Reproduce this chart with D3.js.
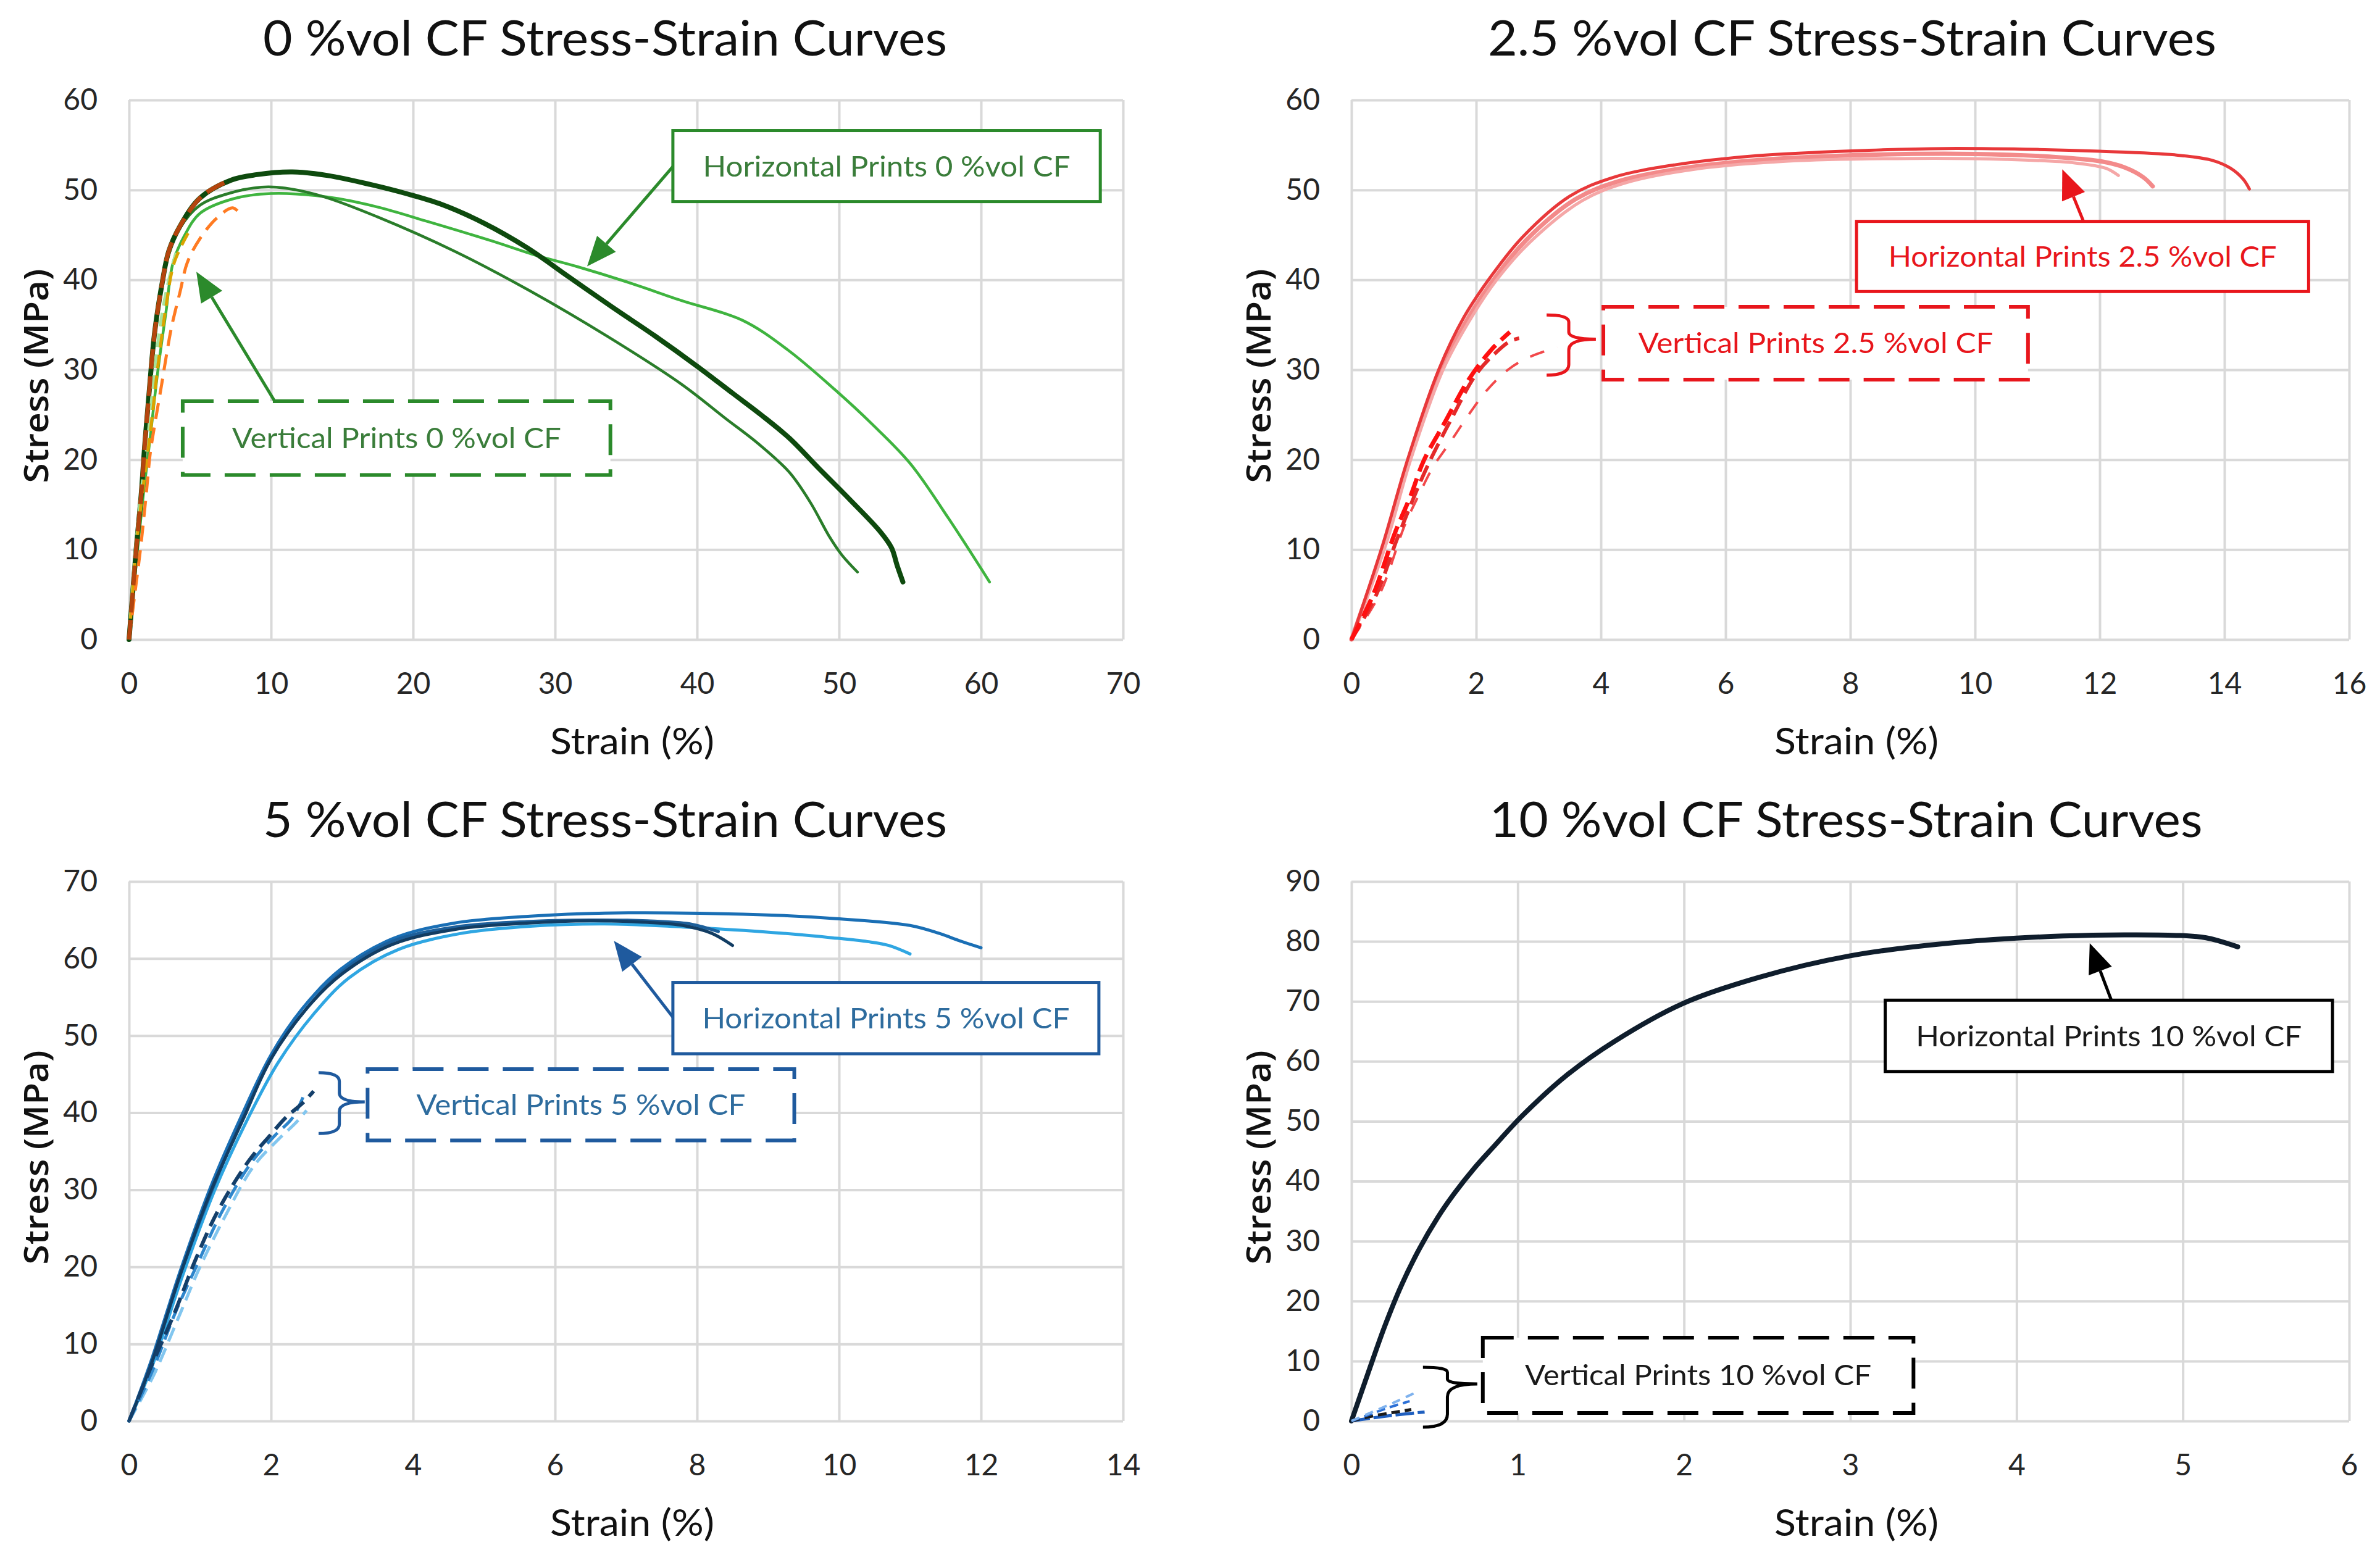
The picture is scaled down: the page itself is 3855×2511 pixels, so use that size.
<!DOCTYPE html>
<html>
<head>
<meta charset="utf-8">
<script src="https://d3js.org/d3.v7.min.js"></script>
<style>
  body { margin: 0; background: #fff; }
</style>
</head>
<body>
<svg id="fig" width="3855" height="2511"></svg>
<script>
// values: [strain %, stress MPa]

const titles = ["0 %vol CF Stress-Strain Curves", "2.5 %vol CF Stress-Strain Curves",
                "5 %vol CF Stress-Strain Curves", "10 %vol CF Stress-Strain Curves"];
const xLabel = "Strain (%)";
const yLabel = "Stress (MPa)";

const xTicks0 = [0, 10, 20, 30, 40, 50, 60, 70];
const yTicks0 = [0, 10, 20, 30, 40, 50, 60];
const xTicks25 = [0, 2, 4, 6, 8, 10, 12, 14, 16];
const yTicks25 = [0, 10, 20, 30, 40, 50, 60];
const xTicks5 = [0, 2, 4, 6, 8, 10, 12, 14];
const yTicks5 = [0, 10, 20, 30, 40, 50, 60, 70];
const xTicks10 = [0, 1, 2, 3, 4, 5, 6];
const yTicks10 = [0, 10, 20, 30, 40, 50, 60, 70, 80, 90];

// 0 %vol CF, horizontal prints
const h0Light = [[0,0],[0.3,5],[0.6,10],[1.0,16],[1.5,22.6],[2.0,29.5],[2.6,36.4],[3.1,41.9],[3.9,44.9],[5,47.4],[7.3,49],[10,49.6],[14,49.2],[17.5,48.1],[21,46.5],[25.6,44.3],[28.5,42.8],[31.5,41.5],[35,39.8],[38.9,37.7],[43.2,35.5],[46.4,32.2],[49.7,27.8],[52.3,24],[55,19.6],[57.7,13.5],[60.6,6.4]];
const h0Mid = [[0,0],[0.25,5],[0.5,10],[0.85,16],[1.1,21.5],[1.4,27],[1.8,33.8],[2.35,39.5],[2.8,42.8],[3.6,45.8],[5,48.3],[7,49.6],[9.3,50.3],[11,50.2],[13.8,49.2],[17.5,47],[22.9,43.2],[28.2,38.8],[33.6,33.8],[38.9,28.4],[42,24.6],[44.3,21.8],[46.5,18.6],[48,15.2],[49.3,11.5],[50.2,9.4],[51.3,7.5]];
const h0Dark = [[0,0],[0.25,5],[0.5,10],[0.85,16],[1.1,21.5],[1.4,27.2],[1.8,34.1],[2.35,39.8],[2.8,43.2],[3.6,46],[5,49.1],[7.2,51.1],[9,51.7],[11.5,52],[14,51.6],[17,50.6],[19.5,49.6],[22,48.4],[25,46.3],[28,43.6],[31,40.3],[34,37],[37,33.8],[40,30.4],[42.5,27.4],[44.5,25],[46.5,22.4],[48.6,19],[50.8,15.5],[52.9,12],[53.7,10.2],[54.1,8.2],[54.5,6.4]];
// 0 %vol CF, vertical prints
const v0Pale = [[0,0],[0.4,9],[0.9,17],[1.3,22],[1.8,30],[2.3,36],[2.8,40],[3.3,43]];
const v0Gold = [[0,0],[0.5,10],[1.0,17],[1.5,23],[2.0,30],[2.6,37],[3.2,42],[4.3,45.6]];
const v0Orange = [[0,0],[0.4,5],[0.8,10],[1.2,16],[1.5,20.8],[1.8,23.8],[2.3,28.4],[2.6,31.3],[3.0,34.8],[3.6,38.7],[4.1,41.9],[5,44.6],[6.2,46.9],[7.3,48],[7.9,47.2]];
const v0Brown = [[0,0],[0.25,5],[0.5,10],[0.85,16],[1.1,21.5],[1.4,27.2],[1.8,34.1],[2.35,39.8],[2.8,43.2],[3.6,46],[5,49.1],[6.2,50.4],[7.2,51.1]];

// 2.5 %vol CF, horizontal prints
const h25A = [[0,0],[0.5,10.5],[0.9,20],[1.4,30],[1.8,35.8],[2.25,40.5],[2.75,44.8],[3.5,49.3],[4.2,51.4],[5.2,52.8],[6.5,53.8],[8.3,54.4],[9.5,54.6],[11,54.5],[12,54.3],[13.2,53.9],[13.8,53.3],[14.1,52.4],[14.3,51.2],[14.4,50.1]];
const h25B = [[0,0],[0.52,10.5],[0.93,20],[1.45,30],[1.85,35.5],[2.3,40.2],[2.8,44.4],[3.6,49],[4.3,51],[5.3,52.4],[6.5,53.3],[8.3,53.9],[10,54],[11.2,53.7],[12,53.2],[12.4,52.5],[12.7,51.4],[12.85,50.4]];
const h25C = [[0,0],[0.55,10.5],[0.95,20],[1.47,30],[1.88,35.3],[2.33,40],[2.85,44.1],[3.7,48.8],[4.4,50.8],[5.5,52.3],[7,53.2],[9,53.5],[10.5,53.4],[11.6,53],[12.1,52.4],[12.3,51.6]];
// 2.5 %vol CF, vertical prints
const v25A = [[0,0],[0.35,5],[0.7,11.9],[0.95,16],[1.16,19.9],[1.51,24.3],[1.87,28.8],[2.24,32.2],[2.54,34.2]];
const v25B = [[0,0],[0.4,5],[0.75,11.5],[1.2,19],[1.6,24.5],[2.0,29.5],[2.3,31.8],[2.55,33.2],[2.69,33.5]];
const v25C = [[0,0],[0.45,5],[0.86,12.8],[1.09,16.2],[1.31,19.2],[1.58,21.9],[1.87,24.9],[2.17,27.7],[2.51,30],[2.85,31.4],[3.3,32.5]];

// 5 %vol CF, horizontal prints
const h5Top = [[0,0],[0.3,7.5],[0.73,19.7],[1.16,30.6],[1.58,39.5],[2.0,47.5],[2.44,53.5],[2.98,58.6],[3.72,62.6],[4.58,64.6],[5.65,65.5],[6.7,65.9],[8.86,65.7],[9.93,65.2],[11,64.3],[11.4,63.3],[11.7,62.3],[12,61.4]];
const h5Light = [[0,0],[0.32,7],[0.76,19],[1.2,29.8],[1.65,38.8],[2.1,46.5],[2.6,52.8],[3.1,57.5],[3.8,61.2],[4.7,63.3],[5.65,64.2],[6.7,64.5],[7.8,64.1],[8.9,63.5],[9.9,62.7],[10.4,62.2],[10.7,61.7],[11,60.6]];
const h5Mid = [[0,0],[0.3,7.2],[0.74,19.5],[1.18,30.2],[1.6,39.3],[2.02,47.3],[2.48,53.3],[3.0,58.3],[3.7,62.2],[4.6,64.1],[5.6,64.8],[6.5,65],[7.3,64.9],[7.9,64.5],[8.3,63.5]];
const h5Dark = [[0,0],[0.3,7],[0.73,19.2],[1.16,30],[1.6,39],[2.0,47],[2.5,53.5],[3.0,58],[3.7,61.8],[4.6,63.8],[5.6,64.6],[6.5,64.9],[7.3,64.7],[7.8,64.3],[8.2,63.3],[8.5,61.7]];
// 5 %vol CF, vertical prints
const v5Dark = [[0,0],[0.3,6.8],[0.64,14],[0.94,21],[1.26,27.4],[1.69,33.8],[2.0,37.2],[2.2,39.3],[2.45,41.3],[2.6,42.8]];
const v5Mid = [[0,0],[0.33,6.5],[0.65,14],[0.97,20.5],[1.3,27],[1.72,33.5],[2.05,37],[2.3,39.3],[2.45,42]];
const v5Light = [[0,0],[0.35,6],[0.7,13.5],[1.0,20],[1.35,26.5],[1.75,33],[2.1,36.5],[2.35,38.7],[2.5,40.3]];

// 10 %vol CF, horizontal prints
const h10 = [[0,0],[0.1,8],[0.2,15.8],[0.3,22.6],[0.41,28.8],[0.52,34],[0.62,38],[0.74,42.2],[0.85,45.6],[1.03,51],[1.3,57.8],[1.58,63.3],[1.99,69.6],[2.45,74],[3.0,77.6],[3.59,79.7],[4.28,80.9],[4.96,81],[5.14,80.6],[5.33,79.1]];
// 10 %vol CF, vertical prints
const v10A = [[0,0],[0.15,0.6],[0.3,1.1],[0.44,1.5]];
const v10B = [[0,0],[0.12,0.8],[0.25,1.4],[0.36,1.9]];
const v10C = [[0,0],[0.1,1],[0.22,2.2],[0.35,3.3]];
const v10D = [[0,0],[0.1,1.2],[0.25,3],[0.39,4.8]];

// ---- layout ----
const FONT = "Lato, 'Open Sans', sans-serif";
const svg = d3.select("#fig");

const panels = [
  { title: titles[0], titleX: 980, titleY: 90, titleLen: 1108,
    x0: 209, x1: 1819, y0: 162, y1: 1036, xDomain: [0, 70], yDomain: [0, 60], xTicks: xTicks0, yTicks: yTicks0,
    series: [
      { d: h0Light, color: "#3fb43f", w: 4.5 },
      { d: h0Mid, color: "#2a7d2a", w: 4.5 },
      { d: h0Dark, color: "#0e4a0e", w: 8 },
      { d: v0Pale, color: "#a6e39a", w: 5, dash: "22 12" },
      { d: v0Gold, color: "#d9a400", w: 5, dash: "22 12" },
      { d: v0Orange, color: "#ff7b22", w: 5, dash: "26 14" },
      { d: v0Brown, color: "#b4450e", w: 7, dash: "32 12" }
    ],
    textColor: "#3a7d3a", lineColor: "#2b8a2b",
    notes: [
      { text: "Horizontal Prints 0 %vol CF", len: 595, x: [38.3, 68.4], y: [56.6, 48.7], arrow: [[38.3, 52.6], [32.26, 41.5]] },
      { text: "Vertical Prints 0 %vol CF", len: 533, x: [3.78, 33.9], y: [26.5, 18.3], dashed: true, arrow: [[10.26, 26.5], [4.74, 40.9]] }
    ] },
  { title: titles[1], titleX: 3000, titleY: 90, titleLen: 1180,
    x0: 2189, x1: 3805, y0: 162, y1: 1036, xDomain: [0, 16], yDomain: [0, 60], xTicks: xTicks25, yTicks: yTicks25,
    series: [
      { d: h25B, color: "#f38a8a", w: 7 },
      { d: h25C, color: "#f5a7a7", w: 5 },
      { d: h25A, color: "#e8383a", w: 5 },
      { d: v25C, color: "#f2494b", w: 4, dash: "24 22" },
      { d: v25B, color: "#e42a2a", w: 6, dash: "28 12" },
      { d: v25A, color: "#ff1010", w: 7, dash: "30 12" }
    ],
    textColor: "#e8161c", lineColor: "#e8161c",
    notes: [
      { text: "Horizontal Prints 2.5 %vol CF", len: 629, x: [8.1, 15.35], y: [46.5, 38.7], arrow: [[11.74, 46.5], [11.4, 52.3]] },
      { text: "Vertical Prints 2.5 %vol CF", len: 575, x: [4.04, 10.85], y: [37.0, 28.9], dashed: true, brace: { x: [3.13, 3.92], y: [36.1, 29.4], tip: 33.4 } }
    ] },
  { title: titles[2], titleX: 980, titleY: 1356, titleLen: 1108,
    x0: 209, x1: 1819, y0: 1428, y1: 2302, xDomain: [0, 14], yDomain: [0, 70], xTicks: xTicks5, yTicks: yTicks5,
    series: [
      { d: h5Light, color: "#2fa6e2", w: 5 },
      { d: h5Top, color: "#1a6fb5", w: 5 },
      { d: h5Mid, color: "#1d5f9a", w: 5 },
      { d: h5Dark, color: "#123d63", w: 5 },
      { d: v5Light, color: "#82c6ef", w: 5, dash: "24 12" },
      { d: v5Mid, color: "#2e86cc", w: 5, dash: "24 12" },
      { d: v5Dark, color: "#143f6a", w: 6, dash: "26 12" }
    ],
    textColor: "#2e6c9e", lineColor: "#1f5a9e",
    notes: [
      { text: "Horizontal Prints 5 %vol CF", len: 595, x: [7.66, 13.66], y: [56.9, 47.65], arrow: [[7.66, 52.4], [6.83, 62.3]] },
      { text: "Vertical Prints 5 %vol CF", len: 533, x: [3.36, 9.37], y: [45.65, 36.4], dashed: true, brace: { x: [2.67, 3.32], y: [45.2, 37.3], tip: 41.4 } }
    ] },
  { title: titles[3], titleX: 2990, titleY: 1356, titleLen: 1155,
    x0: 2189, x1: 3805, y0: 1428, y1: 2302, xDomain: [0, 6], yDomain: [0, 90], xTicks: xTicks10, yTicks: yTicks10,
    series: [
      { d: h10, color: "#0f1d2c", w: 8 },
      { d: v10A, color: "#1f5fbf", w: 5, dash: "30 6" },
      { d: v10B, color: "#1a1a1a", w: 5, dash: "14 8" },
      { d: v10C, color: "#2a6fd6", w: 4, dash: "14 8" },
      { d: v10D, color: "#7fb2ee", w: 4, dash: "14 10" }
    ],
    textColor: "#1a1a1a", lineColor: "#000",
    notes: [
      { text: "Horizontal Prints 10 %vol CF", len: 625, x: [3.21, 5.9], y: [70.2, 58.3], arrow: [[4.57, 70.2], [4.44, 79.7]] },
      { text: "Vertical Prints 10 %vol CF", len: 561, x: [0.79, 3.38], y: [13.9, 1.34], dashed: true, brace: { x: [0.43, 0.757], y: [8.96, -1.03], tip: 6.18 } }
    ] }
];

function drawPanel(p) {
  const x = d3.scaleLinear().domain(p.xDomain).range([p.x0, p.x1]);
  const y = d3.scaleLinear().domain(p.yDomain).range([p.y1, p.y0]);
  const fmt = d3.format("~g");
  const g = svg.append("g");

  // grid + tick labels
  const gy = g.append("g").attr("transform", `translate(${p.x0},0)`)
    .call(d3.axisLeft(y).tickValues(p.yTicks).tickFormat(fmt).tickSize(-(p.x1 - p.x0)).tickPadding(51));
  const gx = g.append("g").attr("transform", `translate(0,${p.y1})`)
    .call(d3.axisBottom(x).tickValues(p.xTicks).tickFormat(fmt).tickSize(-(p.y1 - p.y0)).tickPadding(54));
  [gy, gx].forEach(a => {
    a.select(".domain").remove();
    a.selectAll(".tick line").attr("stroke", "#d9d9d9").attr("stroke-width", 4);
    a.selectAll(".tick text").attr("fill", "#262626").attr("font-family", FONT).attr("font-size", 48);
  });

  // title and axis labels
  g.append("text").attr("x", p.titleX).attr("y", p.titleY).attr("text-anchor", "middle")
    .attr("font-family", FONT).attr("font-size", 80).attr("fill", "#111")
    .attr("textLength", p.titleLen).attr("lengthAdjust", "spacingAndGlyphs").text(p.title);
  g.append("text").attr("x", (p.x0 + p.x1) / 2 + 10).attr("y", p.y1 + 186).attr("text-anchor", "middle")
    .attr("font-family", FONT).attr("font-size", 60).attr("fill", "#111")
    .attr("textLength", 266).attr("lengthAdjust", "spacingAndGlyphs").text(xLabel);
  g.append("text").attr("transform", `translate(${p.x0 - 150},${(p.y0 + p.y1) / 2 + 10}) rotate(-90)`)
    .attr("text-anchor", "middle").attr("dy", "0.35em")
    .attr("font-family", "'Open Sans', sans-serif").attr("font-weight", 600).attr("font-size", 54).attr("fill", "#111")
    .attr("textLength", 347).attr("lengthAdjust", "spacingAndGlyphs").text(yLabel);

  // curves
  const line = d3.line().x(d => x(d[0])).y(d => y(d[1])).curve(d3.curveCatmullRom.alpha(0.5));
  p.series.forEach(s => {
    g.append("path").datum(s.d).attr("d", line).attr("fill", "none")
      .attr("stroke", s.color).attr("stroke-width", s.w)
      .attr("stroke-dasharray", s.dash || null)
      .attr("stroke-linecap", s.dash ? "butt" : "round").attr("stroke-linejoin", "round");
  });

  // annotations
  p.notes.forEach(n => {
    const bx0 = x(n.x[0]), bx1 = x(n.x[1]), by0 = y(n.y[0]), by1 = y(n.y[1]);
    if (n.arrow) {
      const [a, b] = n.arrow.map(q => [x(q[0]), y(q[1])]);
      const ang = Math.atan2(b[1] - a[1], b[0] - a[0]);
      const L = 48, H = 20;
      const bx = b[0] - L * Math.cos(ang), byy = b[1] - L * Math.sin(ang);
      g.append("line").attr("x1", a[0]).attr("y1", a[1]).attr("x2", bx).attr("y2", byy)
        .attr("stroke", p.lineColor).attr("stroke-width", 5);
      g.append("path").attr("fill", p.lineColor)
        .attr("d", `M${b[0]},${b[1]}L${bx + H * Math.sin(ang)},${byy - H * Math.cos(ang)}L${bx - H * Math.sin(ang)},${byy + H * Math.cos(ang)}Z`);
    }
    if (n.brace) {
      const l = x(n.brace.x[0]), r = x(n.brace.x[1]);
      const t = y(n.brace.y[0]), b = y(n.brace.y[1]), m = y(n.brace.tip);
      const xs = l + (r - l) * 0.45;
      g.append("path").attr("fill", "none").attr("stroke", p.lineColor).attr("stroke-width", 5)
        .attr("d", `M${l},${t} Q${xs},${t} ${xs},${t + 0.3 * (m - t)} L${xs},${m - 0.3 * (m - t)} Q${xs},${m} ${r},${m} ` +
                   `Q${xs},${m} ${xs},${m + 0.3 * (b - m)} L${xs},${b - 0.3 * (b - m)} Q${xs},${b} ${l},${b}`);
    }
    g.append("rect").attr("x", bx0).attr("y", by0).attr("width", bx1 - bx0).attr("height", by1 - by0)
      .attr("fill", "#fff").attr("stroke", p.lineColor).attr("stroke-width", n.dashed ? 6 : 5)
      .attr("stroke-dasharray", n.dashed ? "50 23" : null);
    g.append("text").attr("x", (bx0 + bx1) / 2).attr("y", (by0 + by1) / 2).attr("dy", "0.35em")
      .attr("text-anchor", "middle").attr("font-family", FONT).attr("font-size", 47).attr("fill", p.textColor)
      .attr("textLength", n.len).attr("lengthAdjust", "spacingAndGlyphs").text(n.text);
  });
}

panels.forEach(drawPanel);
</script>
</body>
</html>
